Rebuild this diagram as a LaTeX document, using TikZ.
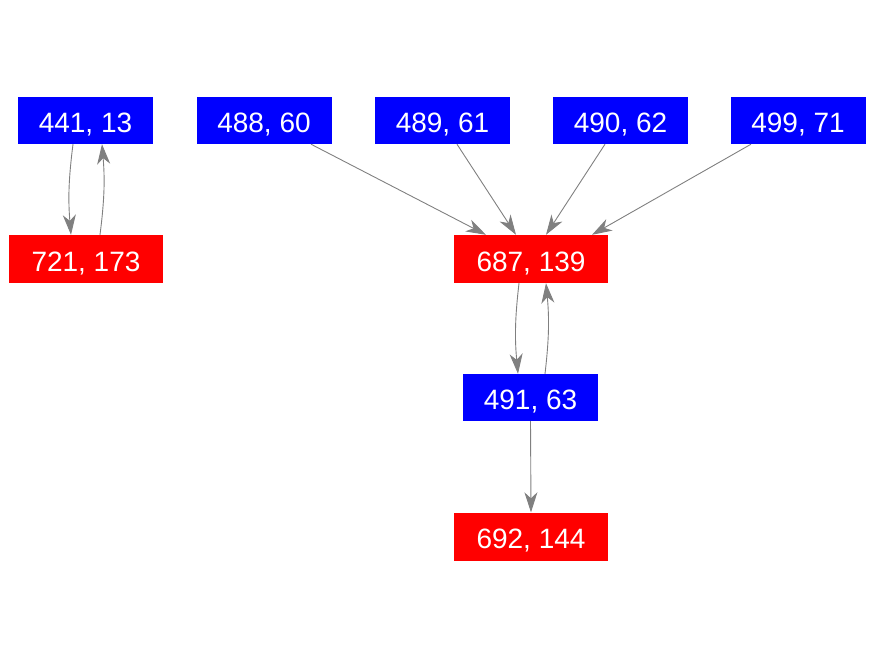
\documentclass[tikz,border=0pt]{standalone}
\usepackage{fontspec}
\setmainfont{Liberation Sans}
\usetikzlibrary{arrows.meta}
\begin{document}
\begin{tikzpicture}[x=1pt,y=-1pt,
  boxbase/.style={text=white,inner sep=0pt,text height=24pt,text depth=0pt,font=\fontsize{28}{28}\selectfont},
  bluebox/.style={boxbase,fill=blue,minimum width=135pt,minimum height=47pt},
  redbox/.style={boxbase,fill=red,minimum width=154pt,minimum height=48pt},
  edge/.style={draw=gray,line width=0.9pt,-{Stealth[length=20pt,width=13pt,inset=6pt]}}]
\useasboundingbox (0,0) rectangle (875,656);
\node[bluebox] (n441) at (85.5,120.5) {441, 13};
\node[bluebox] (n488) at (264,120.5) {488, 60};
\node[bluebox] (n489) at (442.5,120.5) {489, 61};
\node[bluebox] (n490) at (620.5,120.5) {490, 62};
\node[bluebox] (n499) at (798,120.5) {499, 71};
\node[redbox] (n721) at (86,259) {721, 173};
\node[redbox] (n687) at (531,259) {687, 139};
\node[bluebox] (n491) at (530.5,397.5) {491, 63};
\node[redbox] (n692) at (531,536.5) {692, 144};
\draw[edge] ([xshift=-12.5pt]n441.south) to[bend right=6] ([xshift=-15pt]n721.north);
\draw[edge] ([xshift=14pt]n721.north) to[bend right=6] ([xshift=16.5pt]n441.south);
\draw[edge] ([xshift=47pt]n488.south) -- ([xshift=-45pt]n687.north);
\draw[edge] ([xshift=14.5pt]n489.south) -- ([xshift=-15pt]n687.north);
\draw[edge] ([xshift=-15.5pt]n490.south) -- ([xshift=15pt]n687.north);
\draw[edge] ([xshift=-47pt]n499.south) -- ([xshift=61pt]n687.north);
\draw[edge] ([xshift=-12pt]n687.south) to[bend right=6] ([xshift=-12.5pt]n491.north);
\draw[edge] ([xshift=14.5pt]n491.north) to[bend right=6] ([xshift=15pt]n687.south);
\draw[edge] (n491.south) -- (n692.north);
\end{tikzpicture}
\end{document}
